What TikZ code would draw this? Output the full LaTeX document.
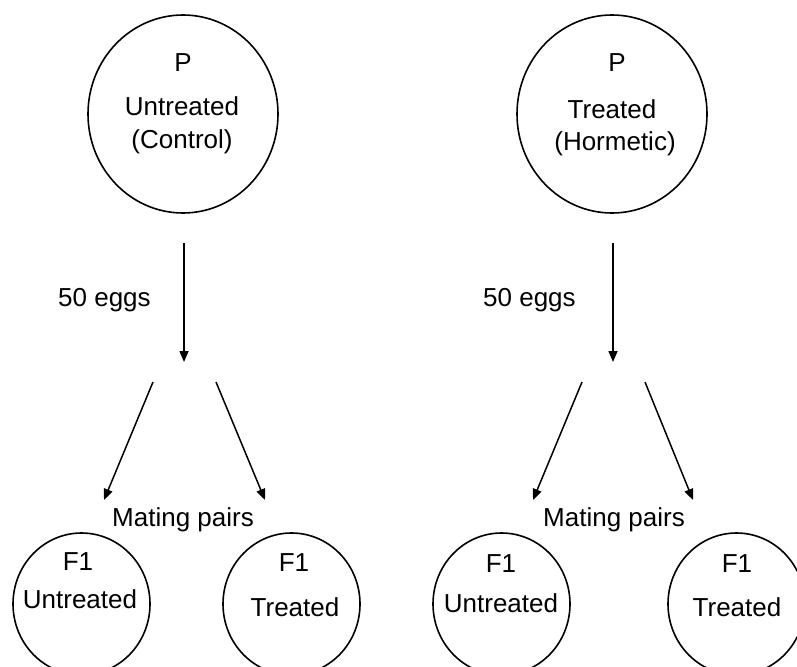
\documentclass[tikz,border=0pt]{standalone}
\usepackage{fontspec}
\setmainfont{Liberation Sans}
\usetikzlibrary{arrows.meta,shapes.geometric}

\begin{document}
\begin{tikzpicture}[
			x=1pt, y=-1pt,
			font=\fontsize{26}{31}\selectfont,
			>={Triangle[length=11pt,width=9pt]},
			parent/.style={
				ellipse, draw=black, line width=1.6pt,
				minimum width=190pt, minimum height=198pt,
				inner sep=0pt
			},
			child/.style={
				ellipse, draw=black, line width=1.6pt,
				minimum width=137pt, minimum height=142pt,
				inner sep=0pt
			},
			txt/.style={anchor=base, inner sep=0pt},
			arr/.style={->, line width=1.5pt, black}
			]
			
			\useasboundingbox (0,0) rectangle (797,666);
			\clip (0,0) rectangle (797,666);
			
			%% ── Left: untreated parents ─────────────────────────────────────────
			\node[parent] (pctl) at (183, 114) {};
			\node[txt] (pctlp) at (183, 72) {P};
			\node[txt] (pctla) at (182, 116) {Untreated};
			\node[txt] (pctlb) at (182, 148) {(Control)};
			
			\coordinate (ctltop) at (184, 243);
			\coordinate (ctlbot) at (184, 362);
			\draw[arr] (ctltop) -- (ctlbot);
			\node[txt, anchor=base west] (ctleggs) at (58, 306) {50 eggs};
			
			\coordinate (ctlla) at (153, 382);
			\coordinate (ctllb) at (104, 500);
			\coordinate (ctlra) at (216, 382);
			\coordinate (ctlrb) at (265, 500);
			\draw[arr] (ctlla) -- (ctllb);
			\draw[arr] (ctlra) -- (ctlrb);
			\node[txt] (ctlmate) at (183, 526) {Mating pairs};
			
			\node[child] (cu1) at (81.5, 604) {};
			\node[txt] (cu1f) at (78, 570) {F1};
			\node[txt] (cu1t) at (80, 608) {Untreated};
			
			\node[child] (ct1) at (291.5, 604) {};
			\node[txt] (ct1f) at (294, 571) {F1};
			\node[txt] (ct1t) at (295, 616) {Treated};
			
			%% ── Right: treated parents ──────────────────────────────────────────
			\node[parent] (phor) at (612, 114) {};
			\node[txt] (phorp) at (617, 72) {P};
			\node[txt] (phora) at (612, 118) {Treated};
			\node[txt] (phorb) at (615, 150) {(Hormetic)};
			
			\coordinate (hortop) at (613, 243);
			\coordinate (horbot) at (613, 362);
			\draw[arr] (hortop) -- (horbot);
			\node[txt, anchor=base west] (horeggs) at (483, 306) {50 eggs};
			
			\coordinate (horla) at (582, 382);
			\coordinate (horlb) at (533, 500);
			\coordinate (horra) at (645, 382);
			\coordinate (horrb) at (693, 500);
			\draw[arr] (horla) -- (horlb);
			\draw[arr] (horra) -- (horrb);
			\node[txt] (hormate) at (614, 526) {Mating pairs};
			
			\node[child] (cu2) at (501.5, 604) {};
			\node[txt] (cu2f) at (501, 572) {F1};
			\node[txt] (cu2t) at (501, 612) {Untreated};
			
			\node[child] (ct2) at (736.5, 604) {};
			\node[txt] (ct2f) at (737, 572) {F1};
			\node[txt] (ct2t) at (737, 616) {Treated};
			
		\end{tikzpicture}
\end{document}
